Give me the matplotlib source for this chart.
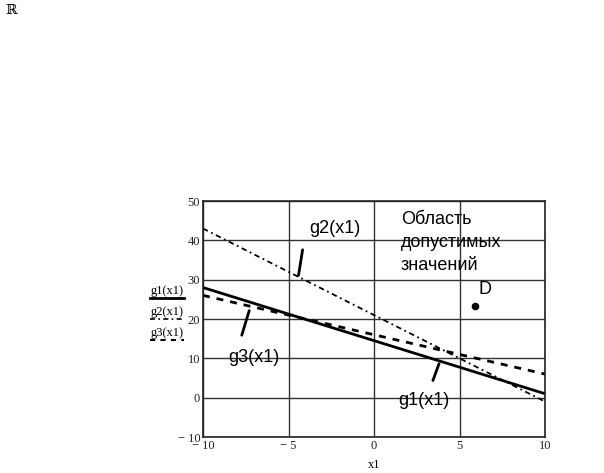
import numpy as np
import matplotlib
matplotlib.use('Agg')
import matplotlib.pyplot as plt
from matplotlib.lines import Line2D
from matplotlib.ticker import FuncFormatter

# данные
x1 = np.array([-10, 10])
g1 = np.array([28.0, 1.0])
g2 = np.array([43.0, -1.0])
g3 = np.array([26.0, 6.0])
D = (5.9, 23.3)
x_ticks = [-10, -5, 0, 5, 10]
y_ticks = [-10, 0, 10, 20, 30, 40, 50]

serif = 'Liberation Serif'
sans = 'Liberation Sans'

def fmt(v, pos):
    if v < 0:
        return '\u2212 %g' % abs(v)
    return '%g' % v

fig = plt.figure(figsize=(6.04, 4.73), dpi=100)
ax = fig.add_axes([203 / 604, 1 - 437 / 473, 342 / 604, 236 / 473])

ax.plot(x1, g1, color='black', lw=2.0, solid_capstyle='butt')
ax.plot(x1, g2, color='black', lw=1.3, dashes=(3, 2, 1, 2))
ax.plot(x1, g3, color='black', lw=2.0, dashes=(2.5, 2.5))
ax.plot(*D, 'o', color='black', ms=4.5)

ax.set_xlim(-10, 10)
ax.set_ylim(-10, 50)
ax.set_xticks(x_ticks)
ax.set_yticks(y_ticks)
ax.xaxis.set_major_formatter(FuncFormatter(fmt))
ax.yaxis.set_major_formatter(FuncFormatter(fmt))
ax.tick_params(length=0, labelsize=9, colors='#222222')
ax.tick_params(axis='x', pad=2)
ax.tick_params(axis='y', pad=2)
for lab in ax.get_xticklabels() + ax.get_yticklabels():
    lab.set_fontfamily(serif)
ax.grid(True, color='#333333', lw=1.0)
for s in ax.spines.values():
    s.set_color('#222222')
    s.set_linewidth(1.2)

ax.set_xlabel('x1', fontfamily=serif, fontsize=9, labelpad=5)

# подписи на поле
ax.annotate('', xy=(-4.44, 30.4), xytext=(-4.15, 38.3),
            arrowprops=dict(arrowstyle='-', lw=2, color='black'))
ax.text(-2.3, 43.1, 'g2(x1)', fontfamily=sans, fontsize=13, ha='center', va='center')
ax.annotate('', xy=(-7.25, 22.8), xytext=(-7.78, 15.2),
            arrowprops=dict(arrowstyle='-', lw=2, color='black'))
ax.text(-7.0, 10.1, 'g3(x1)', fontfamily=sans, fontsize=13, ha='center', va='center')
ax.annotate('', xy=(3.86, 9.3), xytext=(3.39, 3.7),
            arrowprops=dict(arrowstyle='-', lw=2, color='black'))
ax.text(2.9, -0.6, 'g1(x1)', fontfamily=sans, fontsize=13, ha='center', va='center')
ax.text(1.58, 45.2, 'Область', fontfamily=sans, fontsize=13, va='center')
ax.text(1.58, 39.4, 'допустимых', fontfamily=sans, fontsize=13, va='center')
ax.text(1.58, 33.7, 'значений', fontfamily=sans, fontsize=13, va='center')
ax.text(6.5, 27.4, 'D', fontfamily=sans, fontsize=13, ha='center', va='center')

# легенда оси y
labels = ['g1(x1)', 'g2(x1)', 'g3(x1)']
styles = [dict(lw=2.0), dict(lw=1.2, dashes=(3, 2, 1, 2)), dict(lw=1.5, dashes=(2.5, 2.5))]
for i, (lab, st) in enumerate(zip(labels, styles)):
    yc = 1 - (291 + 21 * i) / 473
    fig.text(167 / 604, yc, lab, fontfamily=serif, fontsize=9, ha='center', va='center')
    yl = 1 - (298 + 21 * i) / 473
    fig.add_artist(Line2D([150 / 604, 184 / 604], [yl, yl], color='black',
                          transform=fig.transFigure, **st))

fig.text(5 / 604, 1 - 10 / 473, '\u211d', fontfamily='DejaVu Serif', fontsize=10, va='center')

fig.savefig('out.png', dpi=100)
